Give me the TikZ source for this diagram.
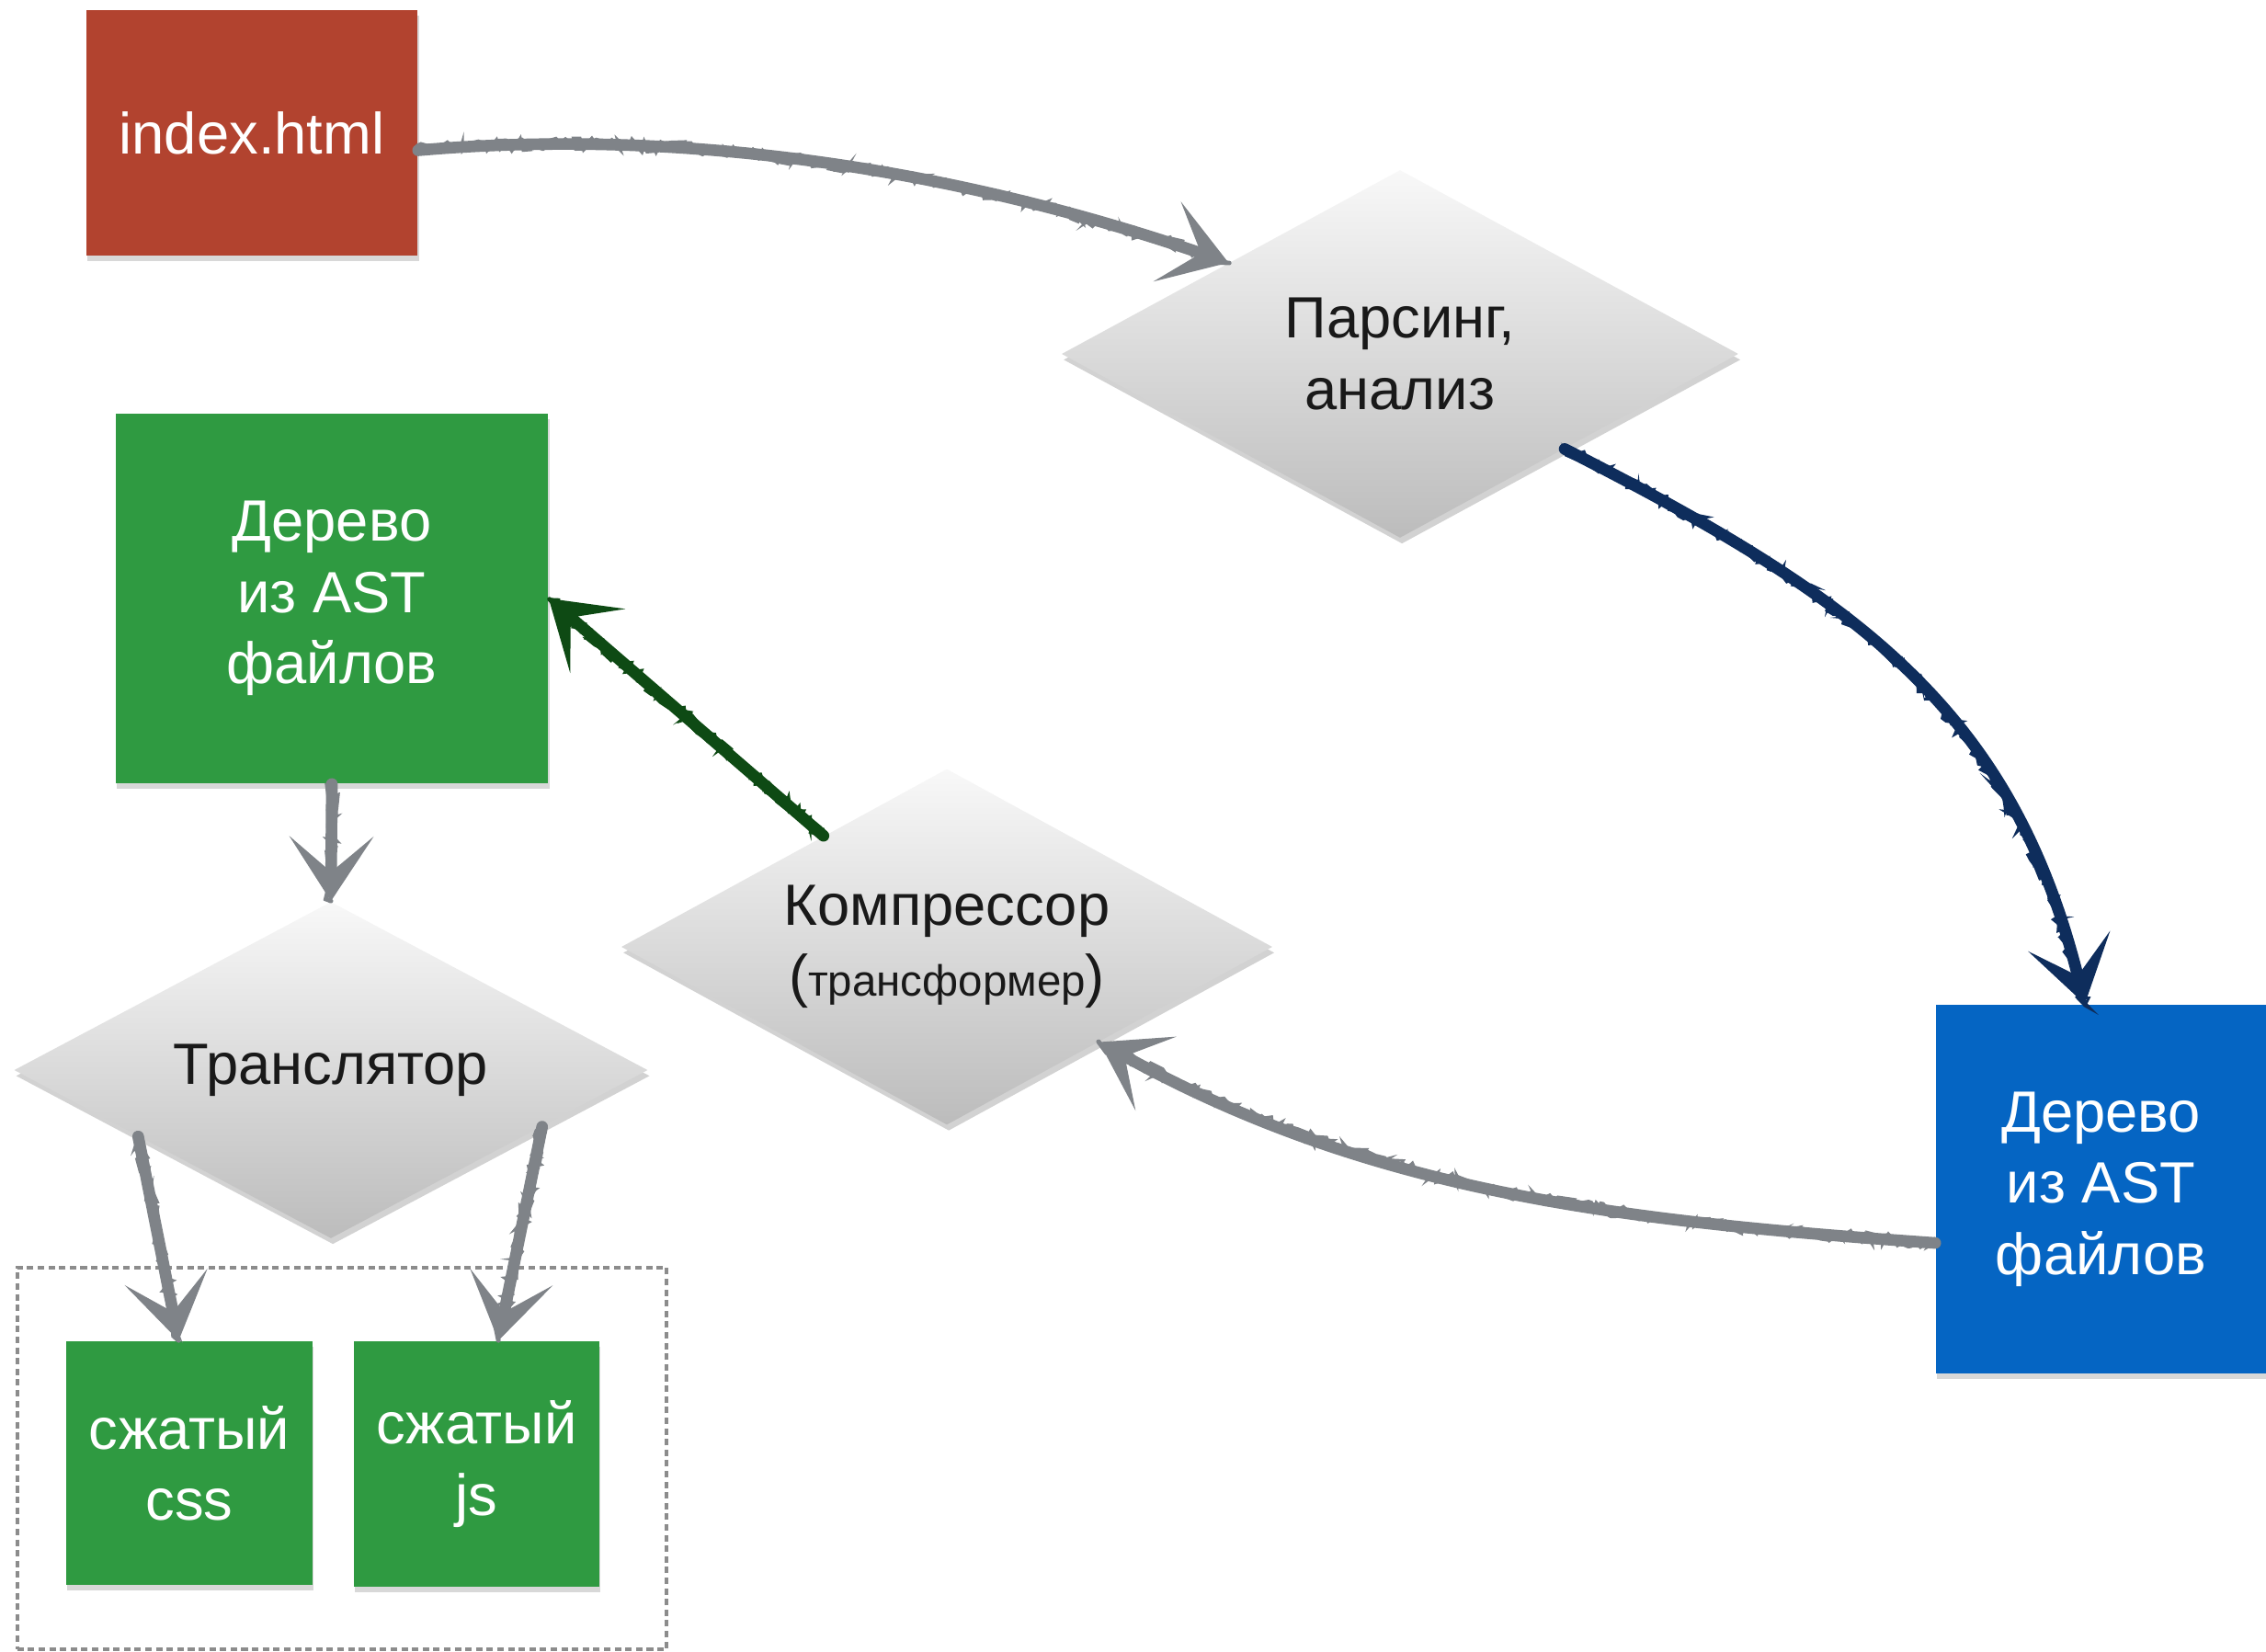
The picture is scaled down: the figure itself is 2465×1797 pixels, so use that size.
\documentclass[tikz,border=0pt]{standalone}
\usepackage{fontspec}
\setmainfont{Liberation Sans}
\usetikzlibrary{shapes.geometric, arrows.meta, shadows, decorations.pathmorphing}
\definecolor{redbox}{HTML}{B2432F}
\definecolor{greenbox}{HTML}{2F9A41}
\definecolor{bluebox}{HTML}{0565C3}
\definecolor{grayarr}{HTML}{7F8388}
\definecolor{navyarr}{HTML}{0E2D5C}
\definecolor{greenarr}{HTML}{0E4A14}
\definecolor{diatop}{HTML}{F8F8F8}
\definecolor{diabot}{HTML}{BCBCBC}
\begin{document}
\begin{tikzpicture}[x=0.01cm, y=0.01cm,
  boxnode/.style={rectangle, inner sep=0pt, align=center, text=white,
    font=\fontsize{18}{22}\selectfont,
    drop shadow={opacity=0.3, shadow xshift=0.4pt, shadow yshift=-1.6pt}},
  dianode/.style={diamond, inner sep=0pt, align=center, text=black!90,
    top color=diatop, bottom color=diabot, draw=none,
    font=\fontsize{18}{22}\selectfont,
    drop shadow={opacity=0.35, shadow xshift=0.6pt, shadow yshift=-1.8pt}},
  grpnode/.style={rectangle, draw=black!45, line width=1pt, dash pattern=on 2pt off 1.3pt, inner sep=0pt},
  chalk/.style={
    postaction={draw, -, line width=1.4pt, decorate,
      decoration={random steps, segment length=2pt, amplitude=1.6pt}},
    postaction={draw, -, line width=0.8pt, decorate,
      decoration={random steps, segment length=1.5pt, amplitude=2.1pt}}},
  arr/.style={line width=3.6pt, line cap=round, chalk,
    -{Stealth[length=20pt, width=26pt, inset=11pt]}}
]
\pgfmathsetseed{7}
\fill[white] (0,0) rectangle (2465,-1797);
\useasboundingbox (0,0) rectangle (2465,-1797);

\node[grpnode, minimum width=7.06cm, minimum height=4.15cm] (grp) at (372,-1586.5) {};

\node[boxnode, fill=redbox, minimum width=3.6cm, minimum height=2.67cm] (idx) at (274,-144.5) {index.html};
\node[dianode, aspect=1.84, minimum width=7.36cm, minimum height=4cm] (parse) at (1523,-385) {Парсинг,\\анализ};
\node[boxnode, fill=greenbox, minimum width=4.7cm, minimum height=4.02cm] (ast1) at (361,-651) {Дерево\\из AST\\файлов};
\node[dianode, aspect=1.83, minimum width=7.08cm, minimum height=3.87cm] (comp) at (1030,-1030) {Компрессор\\({\fontsize{13.5}{16}\selectfont трансформер})};
\node[dianode, aspect=1.88, minimum width=6.89cm, minimum height=3.66cm] (trans) at (360,-1164) {Транслятор};
\node[boxnode, fill=bluebox, minimum width=3.59cm, minimum height=4.01cm] (ast2) at (2285.5,-1293.5) {Дерево\\из AST\\файлов};
\node[boxnode, fill=greenbox, minimum width=2.68cm, minimum height=2.65cm] (css) at (206,-1591.5) {сжатый\\css};
\node[boxnode, fill=greenbox, minimum width=2.67cm, minimum height=2.67cm] (js) at (518.5,-1592.5) {сжатый\\js};

\draw[arr, grayarr] (idx.-6) .. controls +(5:300) and +(161:300) .. (parse.152);
\draw[arr, navyarr] (parse.-30) .. controls +(-27:360) and +(104:330) .. (ast2.95);
\draw[arr, grayarr] (ast2.198) .. controls +(176:340) and +(-29:340) .. (comp.-32);
\draw[arr, greenarr] (comp.138) -- (ast1.east);
\draw[arr, grayarr] (ast1.south) -- (trans.north);
\draw[arr, grayarr] (trans.199) -- (css.95);
\draw[arr, grayarr] (trans.-15) -- (js.80);
\end{tikzpicture}
\end{document}
